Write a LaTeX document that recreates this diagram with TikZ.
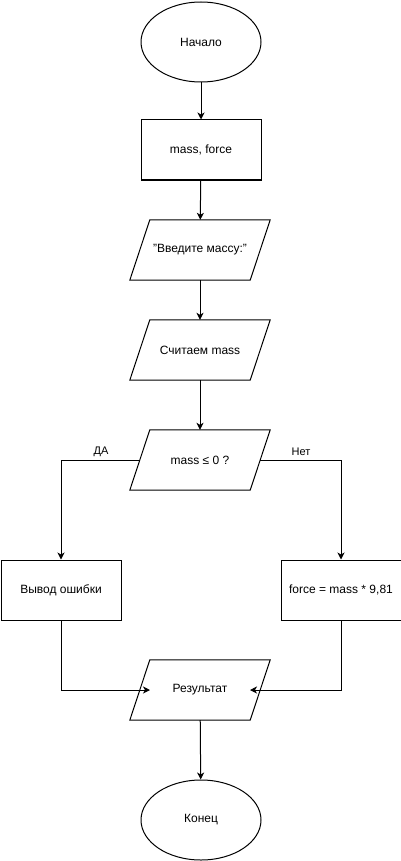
\documentclass[tikz,border=0pt]{standalone}
\usepackage{fontspec}
\setmainfont{Liberation Sans}
\usetikzlibrary{shapes.geometric,arrows.meta}
\begin{document}
\begin{tikzpicture}[x=1pt,y=-1pt,
  every node/.style={font=\fontsize{12}{14}\selectfont},
  shp/.style={draw,line width=1pt},
  term/.style={shp,ellipse,minimum width=120pt,minimum height=80pt,inner sep=0pt},
  proc/.style={shp,rectangle,minimum width=120pt,minimum height=60pt,inner sep=0pt},
  io/.style={rectangle,minimum width=140pt,minimum height=60pt,inner sep=0pt},
  par/.style={line width=1pt,line join=miter},
  arr/.style={line width=1pt,-{Stealth[length=7pt,width=7pt,inset=2pt]}},
  lbl/.style={font=\fontsize{11}{13}\selectfont}]
\useasboundingbox (0,0) rectangle (401,861);
\node[term] (start) at (201,42) {Начало};
\node[proc] (vars) at (201,150) {mass, force};
\node[io] (prompt) at (200,250) {"Введите массу:"};
\node[io] (read) at (200,350) {Считаем mass};
\node[io] (cond) at (200,460) {mass ≤ 0 ?};
\node[proc] (err) at (61,590) {Вывод ошибки};
\node[proc] (calc) at (341,590) {force = mass * 9,81};
\node[io] (res) at (200,690) {Результат};
\node[term] (stop) at (201,820) {Конец};
\foreach \n in {prompt,read,cond,res}{
  \draw[par] ([xshift=20pt]\n.north west) -- (\n.north east) -- ([xshift=-20pt]\n.south east) -- (\n.south west) -- cycle;
}
\draw[arr] (start) -- (vars);
\draw[arr] (vars) -- (prompt);
\draw[arr] (prompt) -- (read);
\draw[arr] (read) -- (cond);
\coordinate (cl) at (140,460);
\coordinate (cr) at (260,460);
\draw[arr] (cl) -| (err.north);
\draw[arr] (cr) -| (calc.north);
\node[lbl] (yes) at (101,452) {ДА};
\node[lbl] (no) at (301,452) {Нет};
\coordinate (rl) at (150,690);
\coordinate (rr) at (250,690);
\draw[arr] (err.south) |- (rl);
\draw[arr] (calc.south) |- (rr);
\draw[arr] (res) -- (stop);
\end{tikzpicture}
\end{document}
